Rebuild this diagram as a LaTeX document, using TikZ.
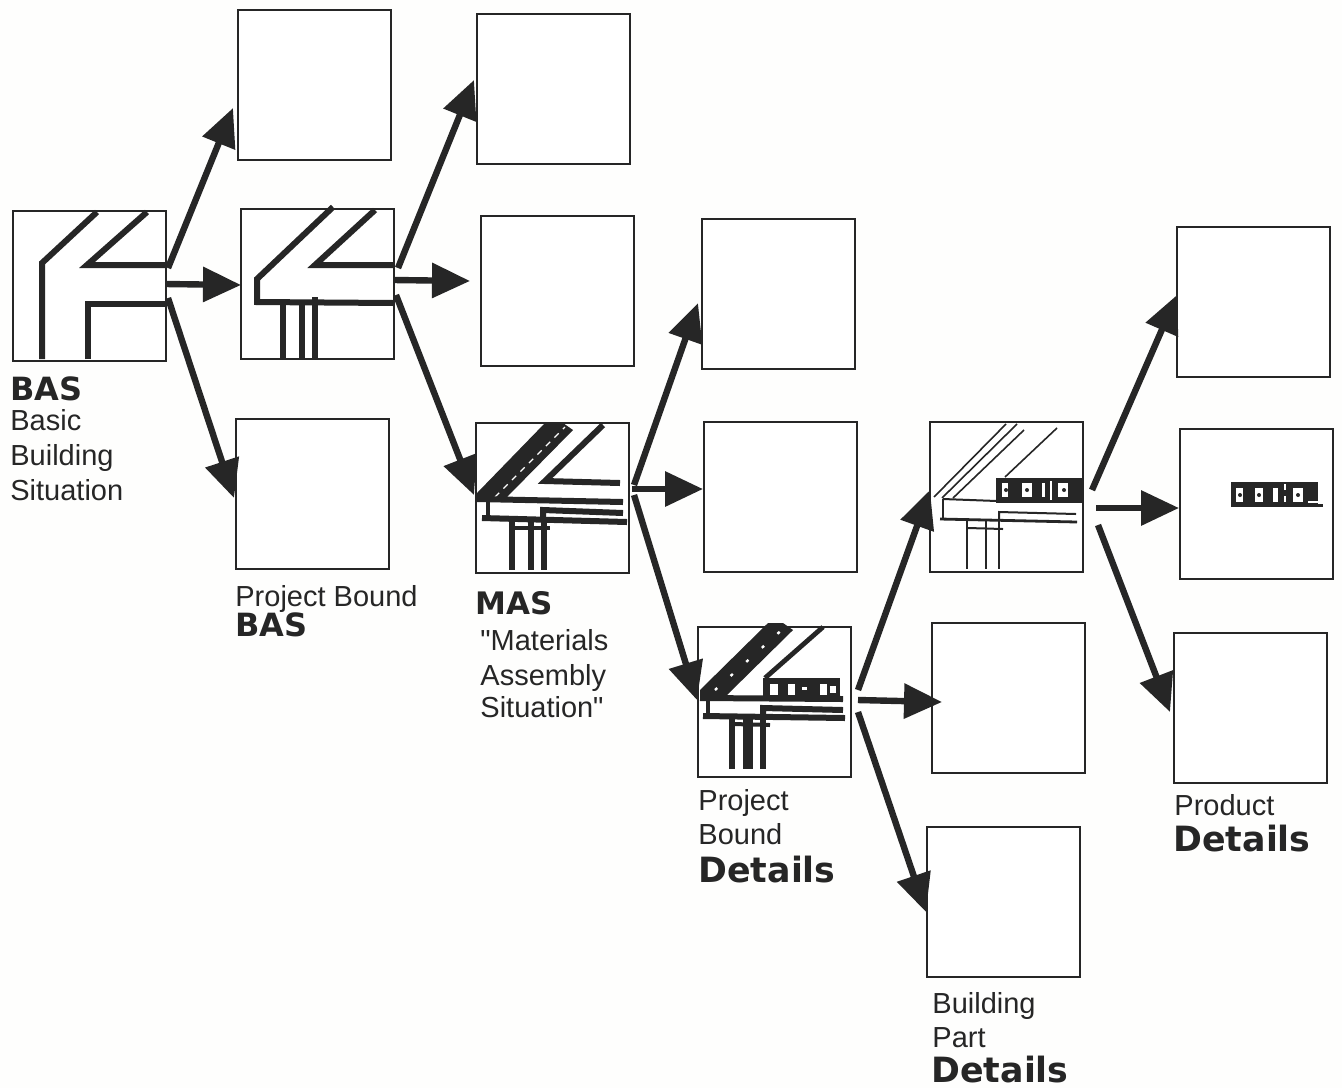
\documentclass[tikz,border=0pt]{standalone}
\usepackage{fontspec}
\setmainfont{Liberation Sans}
\newfontfamily\quotefont{Liberation Sans}[Ligatures=ResetAll]
\newfontfamily\heavyfont{DejaVu Sans}[BoldFont={DejaVu Sans Bold}]
\usetikzlibrary{arrows.meta,calc}
\definecolor{ink}{HTML}{262626}
\definecolor{paper}{HTML}{FEFEFD}
\tikzset{
  box/.style={draw=ink,line width=1pt,fill=white,minimum width=76.5pt,minimum height=75pt,inner sep=0pt,outer sep=0pt},
  flow/.style={draw=ink,line width=3.2pt,-{Triangle[length=19pt,width=17pt,fill=ink]}},
  thick line/.style={draw=ink,line width=3pt,line join=miter},
  thin line/.style={draw=ink,line width=0.8pt},
  mid line/.style={draw=ink,line width=1.4pt},
  lab/.style={anchor=base west,inner sep=0pt,text=ink,font=\fontsize{14.5}{17}\selectfont},
  big/.style={anchor=base west,inner sep=0pt,text=ink,font=\heavyfont\bfseries\fontsize{16}{18}\selectfont},
  bigmas/.style={anchor=base west,inner sep=0pt,text=ink,font=\heavyfont\bfseries\fontsize{15.5}{18}\selectfont},
  bigger/.style={anchor=base west,inner sep=0pt,text=ink,font=\heavyfont\bfseries\fontsize{17.4}{20}\selectfont},
  hole/.style={fill=white},
}
\begin{document}
\begin{tikzpicture}[x=0.5pt,y=-0.5pt]
\useasboundingbox (0,0) rectangle (1342,1088);
\fill[paper] (0,0) rectangle (1342,1088);
% boxes
\node[box] (A) at (89,285.5) {};
\node[box] (B) at (314,85) {};
\node[box] (C) at (317.5,283.5) {};
\node[box] (D) at (312.5,493.5) {};
\node[box] (E) at (553,88.5) {};
\node[box] (F) at (557,291) {};
\node[box] (G) at (552,497.5) {};
\node[box] (H) at (778,294) {};
\node[box] (I) at (780,497) {};
\node[box] (J) at (774.5,702) {};
\node[box] (K) at (1006.5,497) {};
\node[box] (L) at (1008.5,697.5) {};
\node[box] (M) at (1003,901.5) {};
\node[box] (N) at (1253.5,301.5) {};
\node[box] (O) at (1256,503.5) {};
\node[box] (P) at (1250.5,708) {};
% BAS drawing
\draw[thick line] (97,212) -- (42,263) -- (42,359);
\draw[thick line] (147,212) -- (87,265) -- (165,265);
\draw[thick line] (88,359) -- (88,304) -- (165,304);
% project bound BAS drawing
\draw[thick line] (333,207) -- (257,279) -- (257,302) -- (394,303);
\draw[thick line] (375,210) -- (315,265) -- (394,265);
\draw[thick line] (283,303) -- (283,358);
\draw[thick line] (302,303) -- (302,358);
\draw[thick line] (315,297) -- (315,358);
% MAS drawing
\fill[ink] (477,493) -- (545,423) -- (563,423) -- (573,430) -- (507,497) -- (477,500) -- cycle;
\draw[white,line width=0.6pt,dashed] (495,497) -- (565,427);
\draw[thick line] (603,425) -- (545,481) -- (620,483);
\draw[thick line] (477,499) -- (623,502);
\draw[mid line,line width=2.2pt] (488,502) -- (488,518);
\draw[thick line] (482,518) -- (627,522);
\draw[thick line] (543,519) -- (543,510) -- (623,513);
\draw[thick line] (512,521) -- (512,570);
\draw[thick line] (531,521) -- (531,570);
\draw[thick line] (544,521) -- (544,570);
\draw[mid line,line width=2pt] (512,528) -- (550,528);
% project bound details drawing
\fill[ink] (700,690) -- (768,623) -- (783,623) -- (793,630) -- (727,695) -- (700,697) -- cycle;
\draw[white,line width=1.2pt,dash pattern=on 1.5pt off 9pt] (715,690) -- (785,627);
\draw[thick line,line width=2.4pt] (823,627) -- (765,678);
\fill[ink] (763,678) rectangle (840,697);
\fill[hole] (770,684) rectangle (778,695);
\fill[hole] (788,684) rectangle (795,695);
\fill[hole] (802,687) rectangle (807,690);
\fill[hole] (820,684) rectangle (827,695);
\fill[hole] (830,686) rectangle (836,693);
\draw[thick line] (700,698) -- (843,699);
\draw[mid line,line width=2.2pt] (708,700) -- (708,715);
\draw[thick line] (703,716) -- (845,718);
\draw[thick line] (763,716) -- (763,708) -- (843,710);
\draw[thick line] (732,716) -- (732,769);
\draw[thick line,line width=4.6pt] (748,716) -- (748,769);
\draw[thick line] (763,716) -- (763,769);
\draw[mid line,line width=2pt] (733,724) -- (770,725);
% building part drawing
\draw[thin line] (1006,424) -- (934,497);
\draw[thin line] (1017,424) -- (942,498);
\draw[thin line] (1024,430) -- (953,498);
\draw[thin line] (1057,428) -- (1005,477);
\fill[ink] (996,478) rectangle (1082,503);
\fill[hole] (1002,483) rectangle (1008,497);
\fill[hole] (1022,483) rectangle (1032,497);
\fill[hole] (1042,483) rectangle (1045,497);
\fill[hole] (1058,483) rectangle (1068,497);
\draw[white,line width=0.6pt] (1051,481) -- (1051,500);
\fill[ink] (1006,490) circle (1pt) (1027,490) circle (1pt) (1064,490) circle (1pt);
\draw[mid line,line width=1pt] (943,499) -- (997,501);
\draw[mid line,line width=1pt] (943,499) -- (943,518);
\draw[mid line] (940,519) -- (1077,522);
\draw[mid line,line width=1pt] (999,520) -- (999,512) -- (1076,514);
\draw[mid line,line width=1pt] (967,521) -- (967,569);
\draw[mid line,line width=1pt] (986,521) -- (986,569);
\draw[mid line,line width=1pt] (999,521) -- (999,569);
\draw[mid line,line width=1pt] (968,528) -- (1003,529);
% product drawing
\fill[ink] (1231,482) rectangle (1318,507);
\fill[hole] (1308,501) rectangle (1322,503);
\fill[ink] (1308,504) rectangle (1323,507);
\fill[hole] (1236,488) rectangle (1243,502);
\fill[hole] (1255,488) rectangle (1263,502);
\fill[hole] (1273,488) rectangle (1278,502);
\fill[hole] (1293,488) rectangle (1303,502);
\fill[ink] (1240,495) circle (1pt) (1259,495) circle (1pt) (1298,495) circle (1pt);
\draw[white,line width=0.6pt,dashed] (1285,484) -- (1285,506);
% connectors
\draw[flow] ($(A.east)+(2.5,-17.5)$) -- ($(B.west)+(-4.5,23)$);
\draw[flow] ($(A.east)+(0,-1.5)$) -- ($(C.west)+(0,1.5)$);
\draw[flow] ($(A.east)+(2.5,12.5)$) -- ($(D.west)+(-2,4.5)$);
\draw[flow] ($(C.east)+(4,-15.5)$) -- ($(E.west)+(-2.5,-8.5)$);
\draw[flow] ($(C.east)+(0,-3.5)$) -- ($(F.west)+(-10.5,-10)$);
\draw[flow] ($(C.east)+(2,11.5)$) -- ($(G.west)+(-1.5,-2.5)$);
\draw[flow] ($(G.east)+(5.5,-12.5)$) -- ($(H.west)+(-3.5,9)$);
\draw[flow] ($(G.east)+(3.5,-8.5)$) -- ($(I.west)+(-.5,-8)$);
\draw[flow] ($(G.east)+(5.5,-2.5)$) -- ($(J.west)+(-1,-2)$);
\draw[flow] ($(J.east)+(7,-12)$) -- ($(K.west)+(0,-7)$);
\draw[flow] ($(J.east)+(7,-2)$) -- ($(L.west)+(10,4.5)$);
\draw[flow] ($(J.east)+(7,10)$) -- ($(M.west)+(-.5,10.5)$);
\draw[flow] ($(K.east)+(9,-7)$) -- ($(N.west)+(0,-6.5)$);
\draw[flow] ($(K.east)+(13,11)$) -- ($(O.west)+(-.5,4.5)$);
\draw[flow] ($(K.east)+(15,28)$) -- ($(P.west)+(-4,4)$);
% labels
\node[big] (t1) at (10,400) {BAS};
\node[lab] (t2) at (10,430) {Basic};
\node[lab] (t3) at (10,465) {Building};
\node[lab] (t4) at (10,500) {Situation};
\node[lab] (t5) at (235,606) {Project Bound};
\node[big] (t6) at (235,636) {BAS};
\node[bigmas] (t7) at (475,614) {MAS};
\node[lab] (t8) at (480,650) {{\quotefont\symbol{34}}Materials};
\node[lab] (t9) at (480,685) {Assembly};
\node[lab] (t10) at (480,717) {Situation{\quotefont\symbol{34}}};
\node[lab] (t11) at (698,810) {Project};
\node[lab] (t12) at (698,844) {Bound};
\node[bigger] (t13) at (698,882) {Details};
\node[lab] (t14) at (932,1013) {Building};
\node[lab] (t15) at (932,1047) {Part};
\node[bigger] (t16) at (931,1082) {Details};
\node[lab] (t17) at (1174,815) {Product};
\node[bigger] (t18) at (1173,851) {Details};
\end{tikzpicture}
\end{document}
